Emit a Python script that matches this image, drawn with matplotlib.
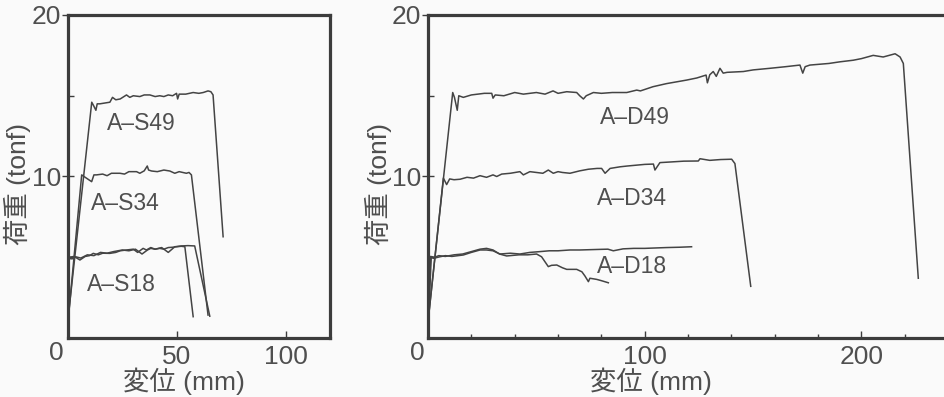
import matplotlib
matplotlib.use("Agg")
import matplotlib.pyplot as plt
from matplotlib.ticker import FixedLocator

plt.rcParams['font.family'] = ['Liberation Sans', 'Noto Sans CJK JP', 'DejaVu Sans']

# ---------------- data (displacement mm, load tonf) ----------------
S49_x = [0, 11.0, 11.8, 12.9, 13.5, 14.7, 17, 19.3, 20.5, 22, 24, 26.9, 28.4, 30, 33, 35, 37.6, 40,
         42.1, 44, 46, 48, 49.8, 50.3, 51, 54, 57.4, 60, 62, 64.2, 65.5, 66.5, 71.1]
S49_y = [1.0, 14.6, 14.4, 14.1, 14.5, 14.5, 14.55, 14.6, 14.9, 14.75, 14.8, 15.05, 14.9, 15.0, 14.95,
         15.05, 15.05, 14.95, 15.0, 14.95, 15.05, 15.0, 15.15, 14.8, 15.1, 15.1, 15.2, 15.15, 15.2,
         15.3, 15.25, 15.05, 6.27]

S34_x = [0, 6.4, 8, 10.96, 12, 13.2, 16, 18, 20, 23.9, 26, 28, 31.5, 33, 35, 36.4, 37, 38.4, 41, 44,
         46.7, 49, 51, 54.3, 55.5, 56.6, 64.2]
S34_y = [0.8, 10.1, 9.95, 9.68, 10.1, 10.1, 10.15, 10.05, 10.2, 10.2, 10.15, 10.3, 10.3, 10.2, 10.35,
         10.65, 10.4, 10.34, 10.3, 10.4, 10.34, 10.2, 10.3, 10.2, 10.25, 10.1, 1.42]

S18a_x = [0, 0.3, 2, 3.5, 5.6, 8, 10, 11.7, 14, 16, 19.3, 22, 24, 26.9, 30, 32, 34.5, 36, 38, 40, 42.1,
          44, 46, 48, 49.8, 52, 53.6, 57.4]
S18a_y = [0.3, 4.93, 4.9, 5.0, 4.83, 5.05, 5.1, 5.24, 5.15, 5.25, 5.24, 5.3, 5.4, 5.45, 5.5, 5.3, 5.55,
          5.45, 5.6, 5.5, 5.55, 5.5, 5.6, 5.62, 5.65, 5.68, 5.65, 1.32]

S18b_x = [0, 0.5, 3, 6, 9, 12, 15, 18, 21, 25, 28, 31, 34, 36.5, 38, 40, 43, 46, 49, 52, 55, 58.1, 65]
S18b_y = [0.3, 5.0, 5.05, 4.95, 5.15, 5.1, 5.3, 5.25, 5.35, 5.45, 5.4, 5.5, 5.2, 5.45, 5.55, 5.5, 5.6,
          5.3, 5.65, 5.7, 5.72, 5.7, 1.35]

D49_x = [0, 11.4, 12.2, 13.5, 14.2, 16.3, 20, 23, 26, 29.4, 30.0, 31, 35, 40, 44, 47, 50, 54, 57.7, 60,
         64, 68.6, 70, 71.7, 73, 76.3, 80, 85, 91.7, 96.3, 98, 103.8, 110, 119.3, 124, 128.3, 128.9,
         130, 131.6, 133, 134.7, 136.2, 138, 145.5, 150, 157.8, 165, 171.6, 172.9, 174, 176.2, 185,
         190, 196.2, 200, 205.4, 210, 215.5, 217.8, 219.3, 226.2]
D49_y = [1.0, 15.2, 14.9, 14.1, 15.0, 14.9, 15.05, 15.1, 15.15, 15.15, 14.85, 15.05, 15.0, 15.2, 15.1,
         15.15, 15.2, 15.1, 15.3, 15.15, 15.25, 15.2, 15.0, 14.8, 15.0, 15.2, 15.15, 15.2, 15.2, 15.35,
         15.3, 15.56, 15.75, 15.97, 16.1, 16.28, 15.8, 16.3, 16.5, 16.2, 16.7, 16.4, 16.45, 16.5, 16.6,
         16.7, 16.8, 16.9, 16.4, 16.8, 16.9, 17.0, 17.1, 17.2, 17.3, 17.5, 17.4, 17.6, 17.4, 17.0, 3.7]

D34_x = [0, 7.1, 8.6, 10, 12, 14.8, 18, 21, 24, 27, 30, 31.7, 34, 38, 42.4, 44, 47, 50, 53, 55.5, 57.8,
         60, 62, 65.5, 70, 74, 78, 80.1, 81.7, 84, 88.6, 92, 96, 100, 104, 104.7, 107, 112, 118, 124.7,
         125.5, 130, 135, 140.1, 141.6, 148.9]
D34_y = [1.0, 9.9, 9.5, 9.85, 9.8, 9.83, 9.95, 9.9, 10.05, 9.95, 10.1, 10.0, 10.15, 10.2, 10.3, 10.1,
         10.3, 10.25, 10.2, 10.4, 10.2, 10.3, 10.25, 10.2, 10.35, 10.45, 10.5, 10.5, 10.2, 10.5, 10.6,
         10.65, 10.7, 10.75, 10.77, 10.4, 10.86, 10.9, 10.95, 10.96, 11.1, 11.0, 11.05, 11.07, 10.8, 3.2]

D18a_x = [0, 1.5, 2.5, 5.5, 8, 11, 16.3, 20, 24, 27, 30, 33.2, 38, 42.4, 47, 51.7, 56, 60, 65.5, 70, 75,
          80, 83, 85.5, 90, 95, 100, 104, 110, 116, 121.6]
D18a_y = [0.5, 5.0, 4.93, 5.03, 5.1, 5.05, 5.14, 5.3, 5.45, 5.45, 5.4, 5.2, 5.25, 5.2, 5.3, 5.35, 5.4,
          5.4, 5.45, 5.45, 5.47, 5.49, 5.5, 5.4, 5.52, 5.55, 5.55, 5.57, 5.6, 5.62, 5.65]

D18b_x = [0, 1.2, 3, 5, 8, 12, 16, 20, 24, 27, 30, 33, 36.3, 42, 46, 50.1, 52.4, 55.5, 57, 59.4, 62, 64,
          68.6, 71, 72.4, 74, 74.7, 77.8, 80, 83.2]
D18b_y = [0.5, 5.05, 5.0, 5.1, 5.05, 5.15, 5.2, 5.35, 5.5, 5.55, 5.45, 5.2, 5.08, 5.15, 5.15, 5.2, 5.03,
          4.42, 4.5, 4.52, 4.35, 4.25, 4.25, 4.1, 3.84, 3.49, 3.7, 3.63, 3.55, 3.42]

left_series = [(S49_x, S49_y), (S34_x, S34_y), (S18a_x, S18a_y), (S18b_x, S18b_y)]
right_series = [(D49_x, D49_y), (D34_x, D34_y), (D18a_x, D18a_y), (D18b_x, D18b_y)]

left_labels = [("A–S49", 33.8, 13.3), ("A–S34", 26.2, 8.35), ("A–S18", 24.6, 3.3)]
right_labels = [("A–D49", 95.5, 13.67), ("A–D34", 94.3, 8.65), ("A–D18", 94.3, 4.42)]

xlabel = "変位 (mm)"
ylabel = "荷重 (tonf)"

# ---------------- style ----------------
BG = '#fafafa'
LINE = '#444444'
SPINE = '#3c3c3c'
TXT = '#4f4f4f'
W, H = 944, 397
TICK_FS = 19
LAB_FS = 19
ANN_FS = 16.5

fig = plt.figure(figsize=(W / 100, H / 100), dpi=100, facecolor=BG)


def px_axes(left, right, top, bottom):
    return fig.add_axes([left / W, (H - bottom) / H, (right - left) / W, (bottom - top) / H])


def style(ax, xmax, xmajor, xminor, xlab_x):
    ax.set_facecolor(BG)
    ax.set_xlim(0, xmax)
    ax.set_ylim(0, 20)
    for s in ax.spines.values():
        s.set_linewidth(2.3)
        s.set_color(SPINE)
    ax.xaxis.set_major_locator(FixedLocator(xmajor))
    ax.xaxis.set_minor_locator(FixedLocator(xminor))
    ax.yaxis.set_major_locator(FixedLocator([10, 20]))
    ax.yaxis.set_minor_locator(FixedLocator([5, 15]))
    ax.tick_params(axis='x', which='major', direction='in', length=5, width=1.0,
                   color=SPINE, labelsize=TICK_FS, labelcolor=TXT, pad=5)
    ax.tick_params(axis='x', which='minor', direction='in', length=3, width=1.0, color=SPINE)
    ax.tick_params(axis='y', which='major', direction='inout', length=8, width=1.0,
                   color=SPINE, labelsize=TICK_FS, labelcolor=TXT, pad=1)
    ax.tick_params(axis='y', which='minor', direction='in', length=4, width=1.0, color=SPINE)
    ax.annotate('0', xy=(0, 0), xycoords=('data', 'axes fraction'), xytext=(-11, -15),
                textcoords='offset pixels', ha='center', va='center', fontsize=TICK_FS,
                color=TXT, annotation_clip=False)
    ax.set_xlabel(xlabel, fontsize=LAB_FS, color=TXT)
    ax.xaxis.label.set_va('center')
    ax.xaxis.set_label_coords(xlab_x, -0.133)
    ax.set_ylabel(ylabel, fontsize=LAB_FS, color=TXT)
    ax.yaxis.label.set_va('center')


# left panel
axL = px_axes(67.7, 330, 15, 338)
style(axL, 120, [50, 100], [], 0.443)
axL.yaxis.set_label_coords(-50 / 262.3, 0.477)
for xs, ys in left_series:
    axL.plot(xs, ys, color=LINE, lw=1.1, solid_joinstyle='round')
for t, x, y in left_labels:
    axL.text(x, y, t, fontsize=ANN_FS, color=TXT, ha='center', va='center')

# right panel (extends beyond the right edge of the figure)
xmaxR = 250
axR = px_axes(428, 428 + xmaxR * 2.1675, 15, 338)
style(axR, xmaxR, [100, 200], [20, 40, 60, 80, 120, 140, 160, 180, 220, 240], 0.4115)
axR.yaxis.set_label_coords(-50 / (xmaxR * 2.1675), 0.477)
for xs, ys in right_series:
    axR.plot(xs, ys, color=LINE, lw=1.1, solid_joinstyle='round')
for t, x, y in right_labels:
    axR.text(x, y, t, fontsize=ANN_FS, color=TXT, ha='center', va='center')

fig.savefig('out.png', dpi=100, facecolor=BG)
